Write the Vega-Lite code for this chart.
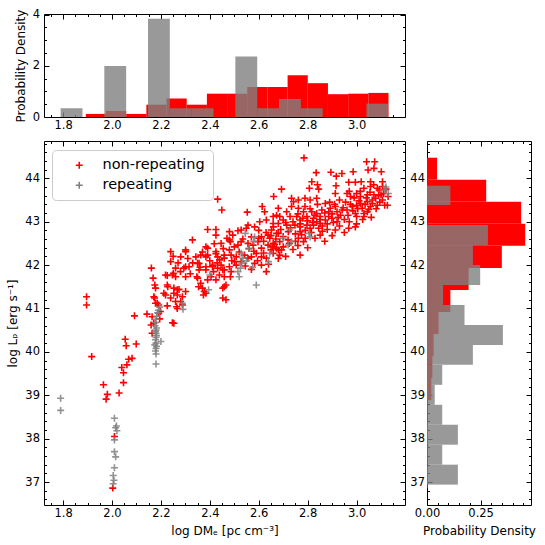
{
"$schema":"https://vega.github.io/schema/vega-lite/v6.json",
"padding":{"left":6,"top":8,"right":4,"bottom":2},
"background":"white",
"config":{
"font":"DejaVu Sans",
"view":{"stroke":"black","strokeWidth":1},
"axis":{"domain":false,"grid":false,"tickColor":"black","tickWidth":1,"labelColor":"black","labelFont":"DejaVu Sans","labelFontSize":11.5,"titleFont":"DejaVu Sans","titleFontSize":12,"titleFontWeight":"normal","titleColor":"black","labelOverlap":false,"labelFlush":false,"labelBound":false}
},
"datasets":{
"red":[
{"x":1.896,"y":41.27},{"x":1.896,"y":41.08},{"x":1.917,"y":39.89},{"x":1.965,"y":39.24},{"x":1.981,"y":39.02},{"x":1.976,"y":38.91},{"x":2.029,"y":39.05},{"x":2.047,"y":39.29},{"x":2.047,"y":39.52},{"x":2.04,"y":39.64},{"x":2.061,"y":39.7},{"x":2.068,"y":39.83},{"x":2.082,"y":39.85},{"x":2.054,"y":40.29},{"x":2.058,"y":40.14},{"x":2.099,"y":40.18},{"x":2.01,"y":38.05},{"x":2.003,"y":36.86},{"x":2.092,"y":40.83},{"x":2.143,"y":40.87},{"x":2.161,"y":41.93},{"x":2.168,"y":41.7},{"x":2.175,"y":41.54},{"x":2.178,"y":41.47},{"x":2.174,"y":41.24},{"x":2.185,"y":41.12},{"x":2.191,"y":40.89},{"x":2.195,"y":40.76},{"x":2.16,"y":40.62},{"x":2.164,"y":40.43},{"x":2.212,"y":41.35},{"x":2.226,"y":41.76},{"x":2.24,"y":42.31},{"x":2.24,"y":42.08},{"x":2.251,"y":41.81},{"x":2.26,"y":41.93},{"x":2.247,"y":40.67},{"x":2.253,"y":40.66},{"x":2.226,"y":41.06},{"x":2.228,"y":41.5},{"x":2.253,"y":41.47},{"x":2.267,"y":41.31},{"x":2.274,"y":41.44},{"x":2.288,"y":41.27},{"x":2.264,"y":41.04},{"x":2.301,"y":42.35},{"x":2.301,"y":41.73},{"x":2.294,"y":41.93},{"x":2.315,"y":41.96},{"x":2.281,"y":42.19},{"x":2.343,"y":42.19},{"x":2.35,"y":42.04},{"x":2.347,"y":41.73},{"x":2.354,"y":41.5},{"x":2.377,"y":41.39},{"x":2.374,"y":41.31},{"x":2.329,"y":42.58},{"x":2.384,"y":42.42},{"x":2.391,"y":42.23},{"x":2.384,"y":41.89},{"x":2.405,"y":41.73},{"x":2.411,"y":41.96},{"x":2.418,"y":42.49},{"x":2.425,"y":42.26},{"x":2.425,"y":42.82},{"x":2.391,"y":42.82},{"x":2.432,"y":43.52},{"x":2.449,"y":43.27},{"x":2.466,"y":41.2},{"x":2.459,"y":41.5},{"x":2.453,"y":41.89},{"x":2.459,"y":42.16},{"x":2.48,"y":42.35},{"x":2.48,"y":42.58},{"x":2.484,"y":41.73},
{"x":2.553,"y":43.22},{"x":2.614,"y":43.35},{"x":2.624,"y":43.23},{"x":2.68,"y":43.31},{"x":2.673,"y":43.15},{"x":2.631,"y":43.04},{"x":2.604,"y":43.0},{"x":2.583,"y":42.88},{"x":2.556,"y":42.92},{"x":2.549,"y":42.85},{"x":2.659,"y":42.96},{"x":2.652,"y":42.81},{"x":2.68,"y":42.73},{"x":2.48,"y":42.77},{"x":2.494,"y":42.69},{"x":2.515,"y":42.79},{"x":2.528,"y":42.81},{"x":2.425,"y":42.69},{"x":2.446,"y":42.5},{"x":2.484,"y":42.54},{"x":2.515,"y":42.46},{"x":2.528,"y":42.54},{"x":2.556,"y":42.5},{"x":2.577,"y":42.46},{"x":2.597,"y":42.54},{"x":2.611,"y":42.39},{"x":2.638,"y":42.46},{"x":2.659,"y":42.5},{"x":2.673,"y":42.39},{"x":2.686,"y":42.54},{"x":2.391,"y":42.39},{"x":2.363,"y":42.23},{"x":2.384,"y":42.19},{"x":2.425,"y":42.31},{"x":2.432,"y":42.19},{"x":2.459,"y":42.23},{"x":2.487,"y":42.23},{"x":2.508,"y":42.19},{"x":2.542,"y":42.23},{"x":2.556,"y":42.16},{"x":2.57,"y":42.19},{"x":2.59,"y":42.27},{"x":2.611,"y":42.19},{"x":2.631,"y":42.16},{"x":2.659,"y":42.27},{"x":2.68,"y":42.35},{"x":2.301,"y":42.31},{"x":2.301,"y":41.96},{"x":2.356,"y":42.04},{"x":2.356,"y":41.89},{"x":2.384,"y":41.96},{"x":2.411,"y":42.0},{"x":2.432,"y":41.93},{"x":2.446,"y":42.0},{"x":2.459,"y":41.89},{"x":2.48,"y":41.96},{"x":2.487,"y":41.85},{"x":2.508,"y":42.0},{"x":2.35,"y":41.7},{"x":2.363,"y":41.58},{"x":2.37,"y":41.47},{"x":2.391,"y":41.66},{"x":2.425,"y":41.66},{"x":2.439,"y":41.77},{"x":2.459,"y":41.73},{"x":2.466,"y":41.54},{"x":2.453,"y":41.47},{"x":2.384,"y":41.35},{"x":2.501,"y":42.08},{"x":2.528,"y":42.08},{"x":2.583,"y":42.04},{"x":2.611,"y":42.0},{"x":2.631,"y":41.85},{"x":2.57,"y":42.65},{"x":2.611,"y":42.65},{"x":2.638,"y":42.69},{"x":2.219,"y":41.77},{"x":2.226,"y":41.54},{"x":2.247,"y":41.77},{"x":2.26,"y":41.73},{"x":2.219,"y":41.31},{"x":2.253,"y":41.35},{"x":2.267,"y":41.43},{"x":2.301,"y":41.39},{"x":2.26,"y":41.16},{"x":2.24,"y":41.24},{"x":2.281,"y":41.16},{"x":2.288,"y":41.08},{"x":2.267,"y":41.0},{"x":2.191,"y":41.08},{"x":2.198,"y":40.93},{"x":2.171,"y":41.27},{"x":2.178,"y":41.12},{"x":2.164,"y":40.81},{"x":2.171,"y":40.66},{"x":2.453,"y":41.24},
{"x":2.785,"y":44.47},{"x":3.041,"y":44.38},{"x":3.074,"y":44.38},{"x":3.071,"y":44.23},{"x":3.047,"y":44.19},{"x":2.835,"y":44.13},{"x":2.895,"y":44.14},{"x":2.917,"y":44.05},{"x":2.986,"y":44.15},{"x":3.101,"y":44.15},{"x":2.94,"y":44.11},{"x":2.817,"y":43.92},{"x":2.84,"y":43.85},{"x":2.807,"y":43.77},{"x":2.845,"y":43.75},{"x":2.916,"y":43.83},{"x":2.968,"y":43.91},{"x":2.995,"y":43.91},{"x":3.019,"y":43.92},{"x":3.057,"y":43.92},{"x":3.106,"y":43.92},{"x":3.057,"y":43.81},{"x":3.085,"y":43.77},{"x":3.03,"y":43.77},{"x":3.106,"y":43.81},{"x":2.693,"y":43.75},{"x":2.661,"y":43.58},{"x":2.913,"y":43.65},{"x":2.961,"y":43.65},{"x":2.975,"y":43.58},{"x":3.0,"y":43.65},{"x":3.016,"y":43.58},{"x":3.044,"y":43.62},{"x":3.071,"y":43.62},{"x":3.092,"y":43.73},{"x":3.1,"y":43.62},{"x":3.044,"y":43.46},{"x":3.064,"y":43.5},{"x":3.078,"y":43.54},{"x":3.106,"y":43.5},{"x":3.126,"y":43.38},{"x":3.129,"y":43.58},{"x":3.016,"y":43.42},{"x":3.023,"y":43.31},{"x":3.0,"y":43.38},{"x":2.982,"y":43.35},{"x":2.961,"y":43.27},{"x":2.995,"y":43.19},{"x":3.03,"y":43.19},{"x":3.057,"y":43.35},{"x":3.085,"y":43.38},{"x":3.044,"y":43.23},{"x":3.0,"y":43.12},{"x":2.734,"y":43.54},{"x":2.742,"y":43.46},{"x":2.762,"y":43.5},{"x":2.789,"y":43.54},{"x":2.81,"y":43.5},{"x":2.837,"y":43.54},{"x":2.872,"y":43.42},{"x":2.892,"y":43.31},{"x":2.913,"y":43.35},{"x":2.92,"y":43.23},{"x":2.934,"y":43.15},{"x":2.941,"y":43.27},{"x":2.886,"y":43.23},{"x":2.858,"y":43.27},{"x":2.837,"y":43.19},{"x":2.817,"y":43.23},{"x":2.789,"y":43.35},{"x":2.783,"y":43.23},{"x":2.762,"y":43.31},{"x":2.734,"y":43.35},{"x":2.714,"y":43.23},{"x":2.659,"y":43.12},{"x":2.686,"y":43.12},{"x":2.7,"y":43.04},{"x":2.728,"y":43.12},{"x":2.755,"y":43.12},{"x":2.769,"y":43.04},{"x":2.797,"y":43.12},{"x":2.824,"y":43.08},{"x":2.851,"y":43.12},{"x":2.872,"y":43.04},{"x":2.899,"y":43.08},{"x":2.92,"y":43.0},{"x":2.851,"y":42.96},{"x":2.824,"y":42.92},{"x":2.797,"y":42.92},{"x":2.769,"y":42.88},{"x":2.748,"y":42.92},{"x":2.714,"y":42.92},{"x":2.68,"y":42.96},{"x":2.913,"y":42.81},{"x":2.995,"y":42.88},{"x":2.845,"y":42.85},{"x":2.81,"y":42.85},{"x":2.769,"y":42.77},{"x":2.721,"y":42.77},{"x":2.673,"y":42.73},{"x":2.645,"y":42.62},{"x":2.762,"y":42.62},{"x":2.783,"y":42.54},{"x":2.851,"y":42.69},{"x":2.769,"y":42.23},{"x":2.693,"y":42.35},{"x":2.656,"y":42.42},{"x":2.686,"y":42.23},{"x":2.837,"y":43.0},{"x":2.968,"y":42.85},{"x":2.886,"y":43.12},
{"x":2.6,"y":42.62},{"x":2.62,"y":42.55},{"x":2.63,"y":42.75},{"x":2.65,"y":42.68},{"x":2.66,"y":42.88},{"x":2.67,"y":42.6},{"x":2.69,"y":42.82},{"x":2.7,"y":42.66},{"x":2.71,"y":42.98},{"x":2.72,"y":42.58},{"x":2.73,"y":42.86},{"x":2.74,"y":43.0},{"x":2.75,"y":42.72},{"x":2.76,"y":43.18},{"x":2.77,"y":42.95},{"x":2.78,"y":43.08},{"x":2.79,"y":42.8},{"x":2.8,"y":43.02},{"x":2.81,"y":43.3},{"x":2.82,"y":42.98},{"x":2.83,"y":43.15},{"x":2.84,"y":43.4},{"x":2.85,"y":43.05},{"x":2.86,"y":42.9},{"x":2.87,"y":43.2},{"x":2.88,"y":42.95},{"x":2.89,"y":43.45},{"x":2.9,"y":43.18},{"x":2.905,"y":42.98},{"x":2.91,"y":43.4},{"x":2.925,"y":43.1},{"x":2.93,"y":43.5},{"x":2.945,"y":43.32},{"x":2.95,"y":43.05},{"x":2.955,"y":43.45},{"x":2.965,"y":43.15},{"x":2.97,"y":43.7},{"x":2.975,"y":43.4},{"x":2.985,"y":43.25},{"x":2.99,"y":43.55},{"x":3.005,"y":43.3},{"x":3.01,"y":43.48},{"x":3.015,"y":43.7},{"x":3.025,"y":43.05},{"x":3.035,"y":43.4},{"x":3.04,"y":43.55},{"x":3.05,"y":43.28},{"x":3.055,"y":43.68},{"x":3.065,"y":43.42},{"x":3.07,"y":43.85},{"x":3.08,"y":43.3},{"x":3.09,"y":43.6},{"x":3.095,"y":43.45},{"x":3.11,"y":43.65},{"x":3.115,"y":43.38},{"x":3.12,"y":43.75},{"x":2.58,"y":42.32},{"x":2.595,"y":42.1},{"x":2.6,"y":42.8},{"x":2.62,"y":42.28},{"x":2.64,"y":42.02},{"x":2.65,"y":42.35},{"x":2.665,"y":42.48},{"x":2.68,"y":42.15},{"x":2.7,"y":42.42},{"x":2.71,"y":42.2},{"x":2.725,"y":42.5},{"x":2.74,"y":42.36},{"x":2.75,"y":42.55},{"x":2.76,"y":42.45},{"x":2.775,"y":42.7},{"x":2.79,"y":42.62},{"x":2.8,"y":42.4},{"x":2.815,"y":42.75},{"x":2.83,"y":42.62},{"x":2.86,"y":42.78},{"x":2.87,"y":42.55},{"x":2.88,"y":42.82},{"x":2.9,"y":42.68},{"x":2.93,"y":42.9},{"x":2.95,"y":42.75},{"x":2.97,"y":43.0},{"x":3.0,"y":42.95},{"x":3.03,"y":43.12},{"x":3.06,"y":43.1},{"x":2.52,"y":42.3},{"x":2.535,"y":42.6},{"x":2.545,"y":41.98},{"x":2.56,"y":42.38},{"x":2.57,"y":41.9},{"x":2.5,"y":42.42},{"x":2.49,"y":42.1},{"x":2.47,"y":42.62},{"x":2.455,"y":42.38},{"x":2.44,"y":42.12},{"x":2.43,"y":42.05},{"x":2.4,"y":42.1},{"x":2.415,"y":41.85},{"x":2.37,"y":42.3},{"x":2.36,"y":41.95},{"x":2.33,"y":42.05},{"x":2.32,"y":41.8},{"x":2.31,"y":42.15},{"x":2.28,"y":41.85},{"x":2.27,"y":42.05},{"x":2.25,"y":42.2}
],
"gray":[
{"x":1.79,"y":38.65},{"x":1.79,"y":38.93},{"x":2.005,"y":36.96},{"x":2.008,"y":37.04},{"x":2.005,"y":37.15},{"x":2.01,"y":37.33},{"x":2.015,"y":37.58},{"x":2.01,"y":37.7},{"x":2.01,"y":37.97},{"x":2.02,"y":38.18},{"x":2.015,"y":38.25},{"x":2.018,"y":38.29},{"x":2.01,"y":38.47},
{"x":2.18,"y":39.72},{"x":2.18,"y":39.95},{"x":2.178,"y":40.02},{"x":2.18,"y":40.08},{"x":2.182,"y":40.13},{"x":2.175,"y":40.16},{"x":2.2,"y":40.24},{"x":2.18,"y":40.2},{"x":2.178,"y":40.28},{"x":2.18,"y":40.33},{"x":2.182,"y":40.37},{"x":2.18,"y":40.42},{"x":2.178,"y":40.46},{"x":2.18,"y":40.5},{"x":2.182,"y":40.55},{"x":2.176,"y":40.6},{"x":2.178,"y":40.68},{"x":2.18,"y":40.75},{"x":2.183,"y":40.82},{"x":2.186,"y":40.9},{"x":2.19,"y":40.96},{"x":2.195,"y":41.03},
{"x":2.288,"y":41.12},{"x":2.29,"y":40.98},{"x":2.4,"y":41.77},{"x":2.395,"y":41.43},
{"x":2.528,"y":42.27},{"x":2.535,"y":42.16},{"x":2.53,"y":42.04},{"x":2.525,"y":41.93},{"x":2.52,"y":41.73},{"x":2.515,"y":41.85},{"x":2.59,"y":41.54},{"x":2.583,"y":42.65},{"x":2.545,"y":42.73},{"x":2.58,"y":42.55},{"x":2.56,"y":42.38},{"x":2.55,"y":42.1},{"x":2.575,"y":41.95},
{"x":2.645,"y":42.27},{"x":2.64,"y":42.08},{"x":2.727,"y":42.81},{"x":2.734,"y":42.54},{"x":2.72,"y":42.46},{"x":2.7,"y":42.62},{"x":2.806,"y":42.73},{"x":2.81,"y":42.65},{"x":3.12,"y":43.8},{"x":3.13,"y":43.65},{"x":3.115,"y":43.73}
],
"topr":[{"a":1.893,"b":1.9755,"d":0.12},{"a":1.9755,"b":2.058,"d":0.23},{"a":2.058,"b":2.1405,"d":0.12},{"a":2.1405,"b":2.223,"d":0.48},{"a":2.223,"b":2.3055,"d":0.72},{"a":2.3055,"b":2.388,"d":0.48},{"a":2.388,"b":2.4705,"d":0.91},{"a":2.4705,"b":2.553,"d":0.91},{"a":2.553,"b":2.6355,"d":1.17},{"a":2.6355,"b":2.718,"d":1.17},{"a":2.718,"b":2.8005,"d":1.63},{"a":2.8005,"b":2.883,"d":1.32},{"a":2.883,"b":2.9655,"d":0.89},{"a":2.9655,"b":3.048,"d":0.91},{"a":3.048,"b":3.1305,"d":0.94}],
"topg":[{"a":1.79,"b":1.8793,"d":0.34},{"a":1.9686,"b":2.0579,"d":1.99},{"a":2.1472,"b":2.2365,"d":3.83},{"a":2.2365,"b":2.3258,"d":0.34},{"a":2.3258,"b":2.4151,"d":0.34},{"a":2.5044,"b":2.5937,"d":2.36},{"a":2.5937,"b":2.683,"d":0.34},{"a":2.683,"b":2.7723,"d":0.7},{"a":2.7723,"b":2.8616,"d":0.34},{"a":3.0402,"b":3.1295,"d":0.52}],
"rightr":[{"a":36.855,"b":37.363,"d":0.004},{"a":37.871,"b":38.379,"d":0.004},{"a":38.887,"b":39.395,"d":0.02},{"a":39.395,"b":39.903,"d":0.025},{"a":39.903,"b":40.411,"d":0.031},{"a":40.411,"b":40.919,"d":0.054},{"a":40.919,"b":41.427,"d":0.109},{"a":41.427,"b":41.935,"d":0.194},{"a":41.935,"b":42.443,"d":0.349},{"a":42.443,"b":42.951,"d":0.458},{"a":42.951,"b":43.459,"d":0.439},{"a":43.459,"b":43.967,"d":0.276},{"a":43.967,"b":44.475,"d":0.047}],
"rightg":[{"a":36.94,"b":37.4,"d":0.144},{"a":37.4,"b":37.86,"d":0.071},{"a":37.86,"b":38.32,"d":0.144},{"a":38.32,"b":38.78,"d":0.071},{"a":38.78,"b":39.24,"d":0.036},{"a":39.24,"b":39.7,"d":0.071},{"a":39.7,"b":40.16,"d":0.214},{"a":40.16,"b":40.62,"d":0.354},{"a":40.62,"b":41.08,"d":0.175},{"a":41.08,"b":41.54,"d":0.075},{"a":41.54,"b":42.0,"d":0.248},{"a":42.0,"b":42.463,"d":0.214},{"a":42.463,"b":42.924,"d":0.284},{"a":43.385,"b":43.83,"d":0.109}]
},
"spacing":24,
"bounds":"flush",
"vconcat":[
{
"width":361,"height":103,
"layer":[
{"data":{"name":"topr"},"mark":{"type":"rect","color":"#ff0000"},
"encoding":{
"x":{"field":"a","type":"quantitative","scale":{"domain":[1.722,3.198],"nice":false,"zero":false},
"axis":{"orient":"bottom","title":null,"values":[1.75,1.8,1.85,1.9,1.95,2.0,2.05,2.1,2.15,2.2,2.25,2.3,2.35,2.4,2.45,2.5,2.55,2.6,2.65,2.7,2.75,2.8,2.85,2.9,2.95,3.0,3.05,3.1,3.15],"labelExpr":"abs(datum.value*5-round(datum.value*5))<0.001 ? format(datum.value,'.1f') : ''","tickSize":{"condition":{"test":"abs(datum.value*5-round(datum.value*5))<0.001","value":-5},"value":-2.5},"labelPadding":7}},
"x2":{"field":"b"},
"y":{"field":"d","type":"quantitative","scale":{"domain":[0,4.02],"nice":false},
"axis":{"orient":"left","title":"Probability Density","titlePadding":5,"values":[0,0.5,1,1.5,2,2.5,3,3.5,4],"labelExpr":"abs(datum.value/2-round(datum.value/2))<0.001 ? format(datum.value,'d') : ''","tickSize":{"condition":{"test":"abs(datum.value/2-round(datum.value/2))<0.001","value":-5},"value":-2.5},"labelPadding":9.5}},
"y2":{"datum":0}}},
{"data":{"name":"topg"},"mark":{"type":"rect","color":"#808080","opacity":0.8},
"encoding":{
"x":{"field":"a","type":"quantitative",
"axis":{"orient":"top","title":null,"labels":false,"values":[1.75,1.8,1.85,1.9,1.95,2.0,2.05,2.1,2.15,2.2,2.25,2.3,2.35,2.4,2.45,2.5,2.55,2.6,2.65,2.7,2.75,2.8,2.85,2.9,2.95,3.0,3.05,3.1,3.15],"tickSize":{"condition":{"test":"abs(datum.value*5-round(datum.value*5))<0.001","value":-5},"value":-2.5}}},
"x2":{"field":"b"},
"y":{"field":"d","type":"quantitative",
"axis":{"orient":"right","title":null,"labels":false,"values":[0,0.5,1,1.5,2,2.5,3,3.5,4],"tickSize":{"condition":{"test":"abs(datum.value/2-round(datum.value/2))<0.001","value":-5},"value":-2.5}}},
"y2":{"datum":0}}}
],
"resolve":{"axis":{"x":"independent","y":"independent"}}
},
{
"hconcat":[
{
"width":361,"height":364,
"layer":[
{"data":{"name":"red"},"mark":{"type":"point","shape":"M-1,0L1,0M0,-1L0,1","filled":false,"size":49,"strokeWidth":1.6,"opacity":1},
"encoding":{
"x":{"field":"x","type":"quantitative","scale":{"domain":[1.722,3.198],"nice":false,"zero":false},
"axis":{"orient":"bottom","title":"log DMₑ [pc cm⁻³]","titlePadding":4,"values":[1.75,1.8,1.85,1.9,1.95,2.0,2.05,2.1,2.15,2.2,2.25,2.3,2.35,2.4,2.45,2.5,2.55,2.6,2.65,2.7,2.75,2.8,2.85,2.9,2.95,3.0,3.05,3.1,3.15],"labelExpr":"abs(datum.value*5-round(datum.value*5))<0.001 ? format(datum.value,'.1f') : ''","tickSize":{"condition":{"test":"abs(datum.value*5-round(datum.value*5))<0.001","value":-5},"value":-2.5},"labelPadding":7}},
"y":{"field":"y","type":"quantitative","scale":{"domain":[36.47,44.86],"nice":false,"zero":false},
"axis":{"orient":"left","title":"log  Lₚ [erg s⁻¹]","titlePadding":5,"values":[36.6,36.8,37,37.2,37.4,37.6,37.8,38,38.2,38.4,38.6,38.8,39,39.2,39.4,39.6,39.8,40,40.2,40.4,40.6,40.8,41,41.2,41.4,41.6,41.8,42,42.2,42.4,42.6,42.8,43,43.2,43.4,43.6,43.8,44,44.2,44.4,44.6,44.8],"labelExpr":"abs(datum.value-round(datum.value))<0.001 ? format(datum.value,'d') : ''","tickSize":{"condition":{"test":"abs(datum.value-round(datum.value))<0.001","value":-5},"value":-2.5},"labelPadding":9.5}},
"color":{"datum":"non-repeating","type":"nominal","scale":{"domain":["non-repeating","repeating"],"range":["#ff0000","#808080"]},
"legend":{"title":null,"orient":"none","legendX":8,"legendY":136,"symbolType":"M-1,0L1,0M0,-1L0,1","symbolSize":49,"symbolStrokeWidth":1.6,"labelFontSize":14.5,"labelFont":"DejaVu Sans","labelColor":"black","fillColor":"white","strokeColor":"#cccccc","cornerRadius":4,"padding":8,"rowPadding":5,"symbolOffset":12,"labelOffset":16}}}},
{"data":{"name":"gray"},"mark":{"type":"point","shape":"M-1,0L1,0M0,-1L0,1","filled":false,"size":49,"strokeWidth":1.6,"opacity":0.85},
"encoding":{
"x":{"field":"x","type":"quantitative",
"axis":{"orient":"top","title":null,"labels":false,"values":[1.75,1.8,1.85,1.9,1.95,2.0,2.05,2.1,2.15,2.2,2.25,2.3,2.35,2.4,2.45,2.5,2.55,2.6,2.65,2.7,2.75,2.8,2.85,2.9,2.95,3.0,3.05,3.1,3.15],"tickSize":{"condition":{"test":"abs(datum.value*5-round(datum.value*5))<0.001","value":-5},"value":-2.5}}},
"y":{"field":"y","type":"quantitative",
"axis":{"orient":"right","title":null,"labels":false,"values":[36.6,36.8,37,37.2,37.4,37.6,37.8,38,38.2,38.4,38.6,38.8,39,39.2,39.4,39.6,39.8,40,40.2,40.4,40.6,40.8,41,41.2,41.4,41.6,41.8,42,42.2,42.4,42.6,42.8,43,43.2,43.4,43.6,43.8,44,44.2,44.4,44.6,44.8],"tickSize":{"condition":{"test":"abs(datum.value-round(datum.value))<0.001","value":-5},"value":-2.5}}},
"color":{"datum":"repeating","type":"nominal"}}}
],
"resolve":{"axis":{"x":"independent","y":"independent"}}
},
{
"width":104,"height":364,
"layer":[
{"data":{"name":"rightr"},"mark":{"type":"rect","color":"#ff0000"},
"encoding":{
"y":{"field":"a","type":"quantitative","scale":{"domain":[36.47,44.86],"nice":false,"zero":false},
"axis":{"orient":"left","title":null,"values":[36.6,36.8,37,37.2,37.4,37.6,37.8,38,38.2,38.4,38.6,38.8,39,39.2,39.4,39.6,39.8,40,40.2,40.4,40.6,40.8,41,41.2,41.4,41.6,41.8,42,42.2,42.4,42.6,42.8,43,43.2,43.4,43.6,43.8,44,44.2,44.4,44.6,44.8],"labelExpr":"abs(datum.value-round(datum.value))<0.001 ? format(datum.value,'d') : ''","tickSize":{"condition":{"test":"abs(datum.value-round(datum.value))<0.001","value":-5},"value":-2.5},"labelPadding":7.5}},
"y2":{"field":"b"},
"x":{"field":"d","type":"quantitative","scale":{"domain":[0,0.485],"nice":false},
"axis":{"orient":"bottom","title":"Probability Density","titlePadding":4,"values":[0,0.05,0.1,0.15,0.2,0.25,0.3,0.35,0.4,0.45],"labelExpr":"abs(datum.value*4-round(datum.value*4))<0.001 ? format(datum.value,'.2f') : ''","tickSize":{"condition":{"test":"abs(datum.value*4-round(datum.value*4))<0.001","value":-5},"value":-2.5},"labelPadding":7}},
"x2":{"datum":0}}},
{"data":{"name":"rightg"},"mark":{"type":"rect","color":"#808080","opacity":0.8},
"encoding":{
"y":{"field":"a","type":"quantitative",
"axis":{"orient":"right","title":null,"labels":false,"values":[36.6,36.8,37,37.2,37.4,37.6,37.8,38,38.2,38.4,38.6,38.8,39,39.2,39.4,39.6,39.8,40,40.2,40.4,40.6,40.8,41,41.2,41.4,41.6,41.8,42,42.2,42.4,42.6,42.8,43,43.2,43.4,43.6,43.8,44,44.2,44.4,44.6,44.8],"tickSize":{"condition":{"test":"abs(datum.value-round(datum.value))<0.001","value":-5},"value":-2.5}}},
"y2":{"field":"b"},
"x":{"field":"d","type":"quantitative",
"axis":{"orient":"top","title":null,"labels":false,"values":[0,0.05,0.1,0.15,0.2,0.25,0.3,0.35,0.4,0.45],"tickSize":{"condition":{"test":"abs(datum.value*4-round(datum.value*4))<0.001","value":-5},"value":-2.5}}},
"x2":{"datum":0}}}
],
"resolve":{"axis":{"x":"independent","y":"independent"}}
}
],
"spacing":22,
"bounds":"flush"
}
]
}
